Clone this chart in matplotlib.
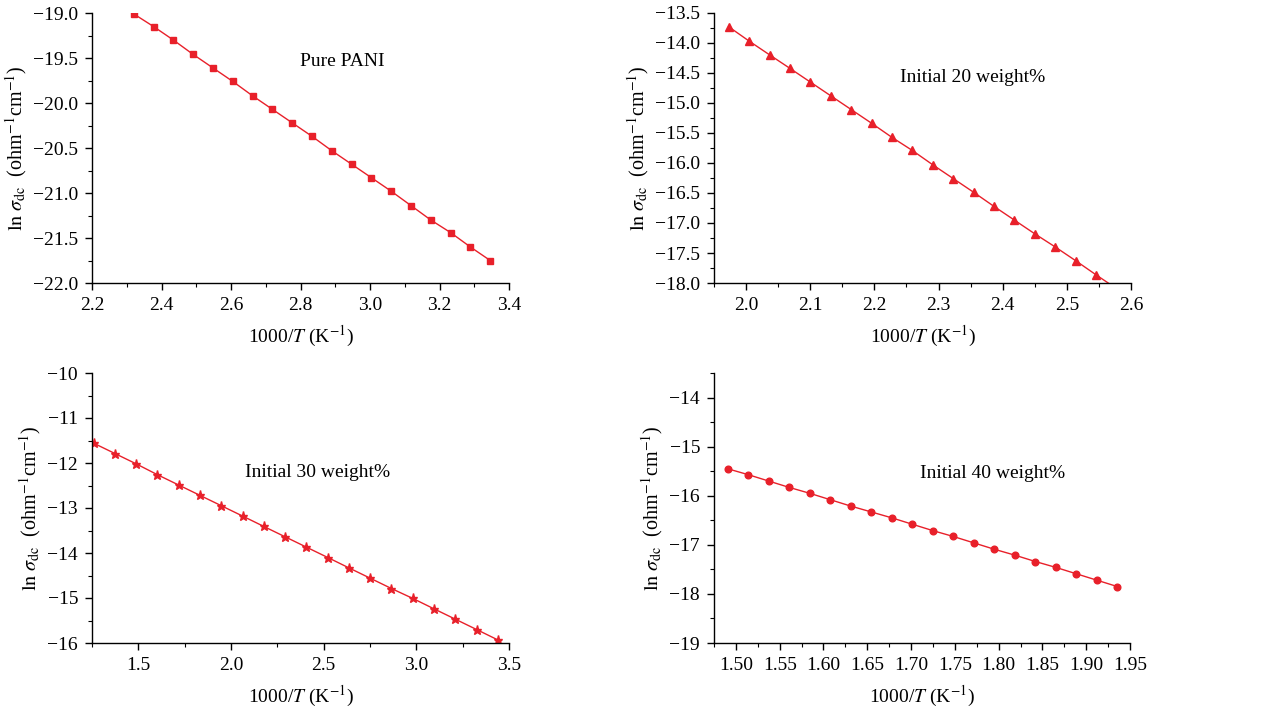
import numpy as np
import matplotlib
matplotlib.use("Agg")
import matplotlib.pyplot as plt
from matplotlib.ticker import MultipleLocator

plt.rcParams['font.family'] = ['Liberation Serif', 'DejaVu Serif']
plt.rcParams['mathtext.fontset'] = 'stix'

# Pure PANI
x_pani = [2.320, 2.377, 2.434, 2.491, 2.548, 2.605, 2.662, 2.719, 2.776, 2.833,
          2.890, 2.947, 3.004, 3.061, 3.118, 3.175, 3.232, 3.289, 3.346]
y_pani = [-19.01, -19.15, -19.30, -19.46, -19.61, -19.76, -19.92, -20.07, -20.22, -20.37,
          -20.53, -20.68, -20.83, -20.98, -21.14, -21.30, -21.44, -21.60, -21.75]

# Initial 20 weight%
x_20 = [1.973, 2.005, 2.037, 2.068, 2.100, 2.132, 2.164, 2.196, 2.227, 2.259,
        2.291, 2.323, 2.355, 2.386, 2.418, 2.450, 2.482, 2.514, 2.545, 2.577]
y_20 = [-13.73, -13.97, -14.20, -14.42, -14.65, -14.88, -15.11, -15.34, -15.57, -15.79,
        -16.03, -16.26, -16.49, -16.72, -16.95, -17.18, -17.40, -17.63, -17.86, -18.09]

# Initial 30 weight%
x_30 = [1.259, 1.374, 1.489, 1.603, 1.718, 1.833, 1.948, 2.063, 2.177, 2.292,
        2.407, 2.522, 2.636, 2.751, 2.866, 2.981, 3.095, 3.210, 3.325, 3.439]
y_30 = [-11.56, -11.79, -12.02, -12.26, -12.49, -12.72, -12.95, -13.18, -13.41, -13.64,
        -13.87, -14.10, -14.33, -14.56, -14.79, -15.01, -15.24, -15.47, -15.70, -15.93]

# Initial 40 weight%
x_40 = [1.4905, 1.5139, 1.5373, 1.5608, 1.5842, 1.6076, 1.6310, 1.6545, 1.6779, 1.7013,
        1.7247, 1.7482, 1.7716, 1.7950, 1.8184, 1.8419, 1.8653, 1.8887, 1.9121, 1.9355]
y_40 = [-15.45, -15.57, -15.70, -15.83, -15.95, -16.08, -16.21, -16.33, -16.45, -16.58,
        -16.71, -16.83, -16.96, -17.09, -17.21, -17.34, -17.46, -17.59, -17.72, -17.85]

red = '#e8202a'
ylab = r'$\ln\,\sigma_{\rm dc}$  (ohm$^{-1}$cm$^{-1}$)'
xlab = r'1000/$T$ (K$^{-1}$)'

fig = plt.figure(figsize=(12.71, 7.12), dpi=100)
W, H = 1271, 712


def make_ax(l, r, t, b):
    return fig.add_axes([l / W, 1 - b / H, (r - l) / W, (b - t) / H])


panels = [
    # x, y, marker, ms, rect, xlim, ylim, xmaj, xmin, ymaj, ymin, label, text pos, fmt
    (x_pani, y_pani, 's', 4.2, (92, 509, 13, 283), (2.2, 3.4), (-22.0, -19.0),
     0.2, 0.1, 0.5, 0.25, 'Pure PANI', (0.60, 0.82), ('%.1f', '%.1f')),
    (x_20, y_20, '^', 5.5, (714, 1131, 13, 283), (1.95, 2.6), (-18.0, -13.5),
     0.1, 0.05, 0.5, 0.25, 'Initial 20 weight%', (0.62, 0.76), ('%.1f', '%.1f')),
    (x_30, y_30, '*', 6.5, (92, 509, 373, 643), (1.25, 3.5), (-16, -10),
     0.5, 0.25, 1, 0.5, 'Initial 30 weight%', (0.54, 0.63), ('%.1f', '%d')),
    (x_40, y_40, 'o', 4.8, (714, 1130, 373, 643), (1.475, 1.95), (-19, -13.5),
     0.05, 0.025, 1, 0.5, 'Initial 40 weight%', (0.67, 0.626), ('%.2f', '%d')),
]

for (xs, ys, mk, ms, rect, xl, yl, xmaj, xmin, ymaj, ymin, name, tpos, fmts) in panels:
    ax = make_ax(*rect)
    ax.plot(xs, ys, color=red, lw=1.0, marker=mk, ms=ms, mec=red, mfc=red)
    ax.set_xlim(*xl)
    ax.set_ylim(*yl)
    ax.xaxis.set_major_locator(MultipleLocator(xmaj))
    ax.xaxis.set_minor_locator(MultipleLocator(xmin))
    ax.yaxis.set_major_locator(MultipleLocator(ymaj))
    ax.yaxis.set_minor_locator(MultipleLocator(ymin))
    ax.xaxis.set_major_formatter(lambda v, p, f=fmts[0]: (f % v).replace('-', '\u2212'))
    ax.yaxis.set_major_formatter(lambda v, p, f=fmts[1]: (f % v).replace('-', '\u2212'))
    ax.spines['top'].set_visible(False)
    ax.spines['right'].set_visible(False)
    for s in ('left', 'bottom'):
        ax.spines[s].set_linewidth(1.0)
    ax.tick_params(which='major', direction='out', length=5, width=1.0, labelsize=14, pad=5)
    ax.tick_params(which='minor', direction='out', length=3, width=0.8)
    ax.set_xlabel(xlab, fontsize=14, labelpad=7)
    ax.set_ylabel(ylab, fontsize=14.5, labelpad=3)
    ax.text(tpos[0], tpos[1], name, transform=ax.transAxes, fontsize=14,
            ha='center', va='center')

fig.savefig('out.png', dpi=100)
